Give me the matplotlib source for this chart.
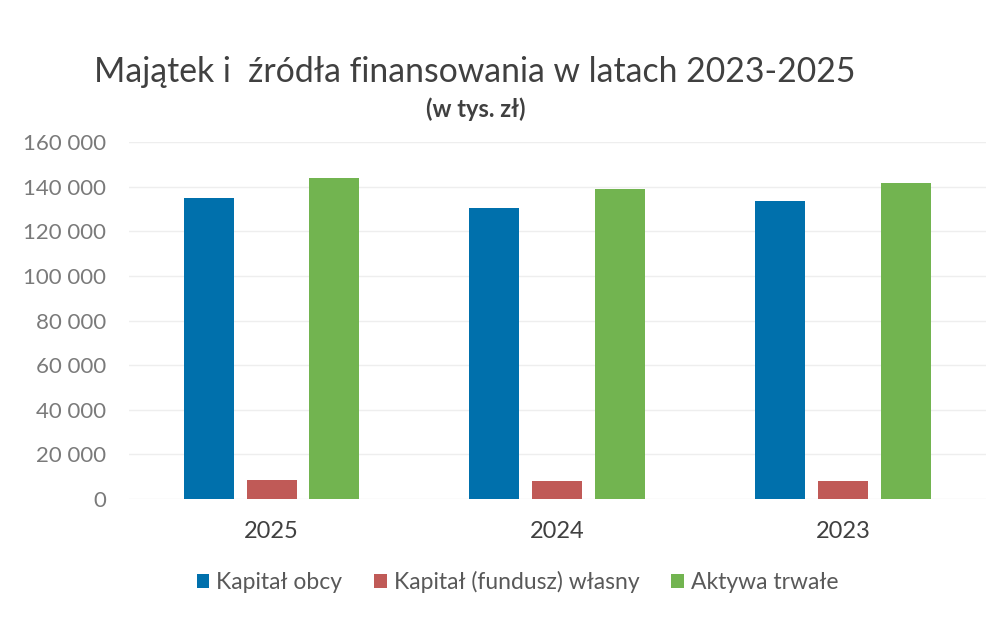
import matplotlib.pyplot as plt
import numpy as np

plt.rcParams['font.family'] = ['Lato', 'DejaVu Sans']

years = ['2025', '2024', '2023']
kapital_obcy = [134700, 130400, 133600]
kapital_wlasny = [8800, 8200, 8100]
aktywa_trwale = [143900, 138700, 141800]

labels = ['Kapitał obcy', 'Kapitał (fundusz) własny', 'Aktywa trwałe']
colors = ['#0070ac', '#c05a57', '#72b450']

fig = plt.figure(figsize=(10.05, 6.17), dpi=100)
ax = fig.add_axes([0.128, 0.191, 0.853, 0.579])

x = np.arange(len(years))
w = 0.175
off = 0.22
for i, (vals, lab, col) in enumerate(zip([kapital_obcy, kapital_wlasny, aktywa_trwale], labels, colors)):
    ax.bar(x + (i - 1) * off, vals, w, color=col, label=lab, zorder=2)

ax.set_xlim(-0.5, 2.5)
ax.set_ylim(0, 160000)
ax.set_yticks(np.arange(0, 160001, 20000))
ax.set_yticklabels([f'{v:,}'.replace(',', ' ') for v in range(0, 160001, 20000)])
ax.set_xticks(x)
ax.set_xticklabels(years)
ax.tick_params(axis='y', length=0, pad=16, labelsize=16, labelcolor='#7a7a7a')
ax.tick_params(axis='x', length=0, pad=16, labelsize=17, labelcolor='#404040')
ax.grid(axis='y', color='#eeeeee', linewidth=1, zorder=0)
for s in ax.spines.values():
    s.set_visible(False)

fig.text(0.472, 0.883, 'Majątek i  źródła finansowania w latach 2023-2025',
         ha='center', va='center', fontsize=24.3, color='#404040')
fig.text(0.473, 0.823, '(w tys. zł)', ha='center', va='center', fontsize=17,
         color='#404040', fontweight='bold')

fig.legend(loc='center', bbox_to_anchor=(0.515, 0.056), ncol=3, frameon=False,
           fontsize=16.5, labelcolor='#595959', handlelength=0.55, handleheight=0.55,
           handletextpad=0.3, columnspacing=1.4)

fig.savefig('out.png', dpi=100)
